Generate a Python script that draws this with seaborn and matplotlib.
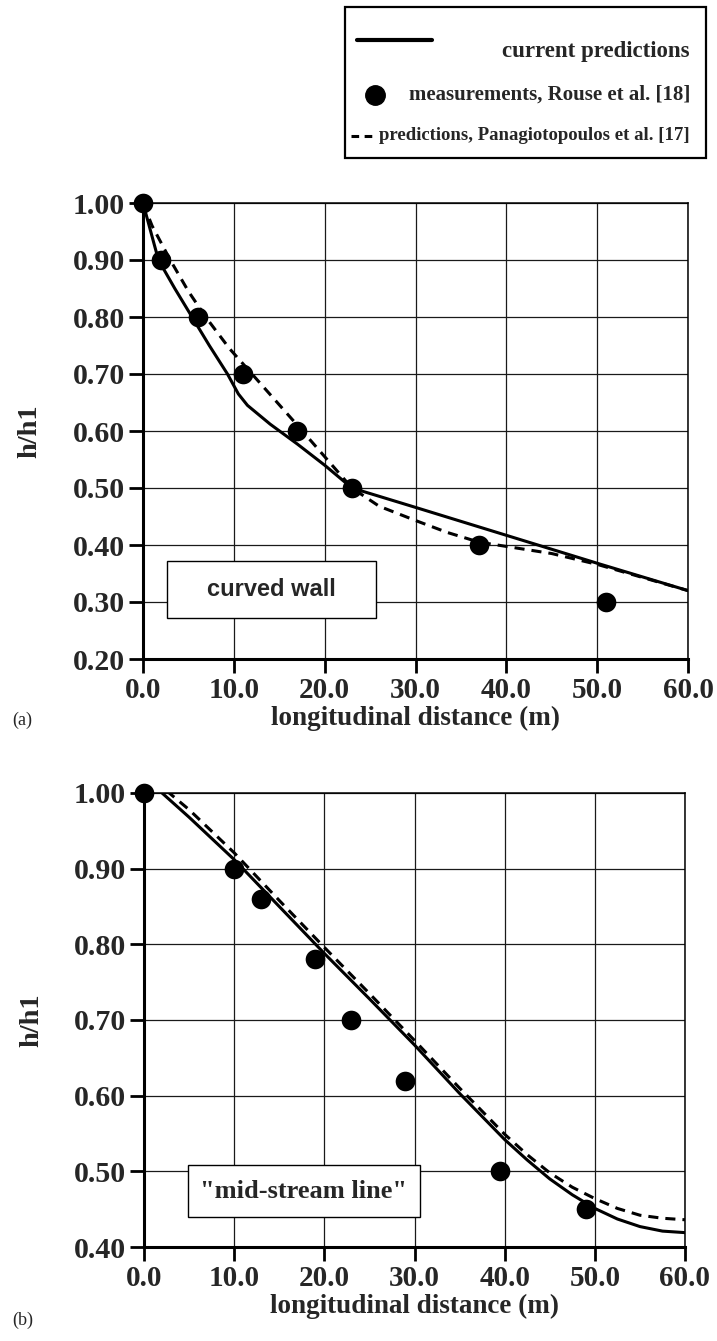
import matplotlib
matplotlib.use("Agg")
import matplotlib.pyplot as plt
from matplotlib.patches import Rectangle
from matplotlib.lines import Line2D
import seaborn as sns

# ---- (a) curved wall ----
wall_meas_x = [0, 2, 6, 11, 17, 23, 37, 51]
wall_meas_y = [1.00, 0.90, 0.80, 0.70, 0.60, 0.50, 0.40, 0.30]
wall_curr_x = [0, 1.7, 3.5, 5.4, 7.3, 9.3, 10.5, 11.5, 14, 17, 20, 23, 30, 40, 50, 60]
wall_curr_y = [1.00, 0.90, 0.85, 0.80, 0.75, 0.70, 0.665, 0.645, 0.612, 0.577, 0.54, 0.50,
               0.466, 0.417, 0.368, 0.320]
wall_prev_x = [0, 1, 3, 5, 6.9, 9.5, 12, 14.5, 17, 20, 23, 26, 30, 33.5, 37, 41, 45, 50, 55, 60]
wall_prev_y = [1.00, 0.96, 0.90, 0.845, 0.80, 0.745, 0.70, 0.655, 0.61, 0.555, 0.50, 0.468,
               0.443, 0.422, 0.405, 0.395, 0.385, 0.366, 0.343, 0.320]

# ---- (b) mid-stream line ----
mid_meas_x = [0, 10, 13, 19, 23, 29, 39.5, 49]
mid_meas_y = [1.00, 0.90, 0.86, 0.78, 0.70, 0.62, 0.50, 0.45]
mid_curr_x = [2, 5, 10, 15, 20, 25, 30, 35, 40, 42.5, 45, 47.5, 50, 52.5, 55, 57.5, 60]
mid_curr_y = [1.00, 0.968, 0.912, 0.85, 0.788, 0.728, 0.667, 0.603, 0.542, 0.515, 0.49,
              0.469, 0.451, 0.437, 0.427, 0.421, 0.419]
mid_prev_x = [2.5, 5, 10, 15, 20, 25, 30, 35, 40, 42.5, 45, 47.5, 50, 52.5, 55, 57.5, 60]
mid_prev_y = [1.003, 0.978, 0.921, 0.858, 0.796, 0.735, 0.673, 0.61, 0.549, 0.522, 0.498,
              0.479, 0.464, 0.451, 0.442, 0.438, 0.436]

x_ticks = [0, 10, 20, 30, 40, 50, 60]
x_ticklabels = ["0.0", "10.0", "20.0", "30.0", "40.0", "50.0", "60.0"]
wall_yticks = [0.20, 0.30, 0.40, 0.50, 0.60, 0.70, 0.80, 0.90, 1.00]
mid_yticks = [0.40, 0.50, 0.60, 0.70, 0.80, 0.90, 1.00]

legend_labels = ["current predictions",
                 "measurements, Rouse et al. [18]",
                 "predictions, Panagiotopoulos et al. [17]"]

sns.set_theme(style="ticks")
plt.rcParams["font.family"] = ["Liberation Serif", "DejaVu Serif"]
plt.rcParams["font.weight"] = "bold"

W, H = 717, 1341
fig = plt.figure(figsize=(W / 100, H / 100), dpi=100)
fig.patch.set_facecolor("white")

DASH = (0, (3.3, 2.3))
LW = 2.2


def px_rect(x0, y0, x1, y1):
    """axes rectangle from pixel edges (origin top-left)"""
    return [x0 / W, 1 - y1 / H, (x1 - x0) / W, (y1 - y0) / H]


def style_axes(ax, yticks, ylo):
    ax.set_xlim(0, 60)
    ax.set_ylim(ylo, 1.0)
    ax.set_xticks(x_ticks)
    ax.set_xticklabels(x_ticklabels)
    ax.set_yticks(yticks)
    ax.set_yticklabels([f"{v:.2f}" for v in yticks])
    ax.grid(True, color="#1a1a1a", linewidth=0.9)
    ax.set_axisbelow(True)
    for side in ("left", "bottom"):
        ax.spines[side].set_linewidth(2.2)
        ax.spines[side].set_color("black")
    for side in ("top", "right"):
        ax.spines[side].set_linewidth(1.1)
        ax.spines[side].set_color("black")
    ax.tick_params(axis="both", direction="out", length=10, width=2.0,
                   color="black", pad=3)
    ax.tick_params(axis="x", labelsize=21)
    ax.tick_params(axis="y", labelsize=21.5)
    for lab in ax.get_xticklabels() + ax.get_yticklabels():
        lab.set_fontweight("bold")
    ax.set_xlabel("longitudinal distance (m)", fontsize=19.5, fontweight="bold", labelpad=1)
    ax.set_ylabel("h/h1", fontsize=20.5, fontweight="bold")
    ax.yaxis.set_label_coords(-0.185, 0.5)
    ax.set_facecolor("white")


def draw_panel(ax, mx, my, cx, cy, px, py):
    sns.lineplot(x=px, y=py, ax=ax, color="black", linewidth=LW, linestyle=DASH,
                 estimator=None, sort=False, zorder=3)
    sns.lineplot(x=cx, y=cy, ax=ax, color="black", linewidth=LW,
                 estimator=None, sort=False, zorder=3)
    sns.scatterplot(x=mx, y=my, ax=ax, color="black", s=200, edgecolor="black",
                    linewidth=0, zorder=5, clip_on=False)


# top panel
ax1 = fig.add_axes(px_rect(143, 203, 688, 659))
draw_panel(ax1, wall_meas_x, wall_meas_y, wall_curr_x, wall_curr_y, wall_prev_x, wall_prev_y)
style_axes(ax1, wall_yticks, 0.20)
ax1.add_patch(Rectangle((2.6, 0.2725), 23.0, 0.0995, facecolor="white",
                        edgecolor="black", linewidth=1.0, zorder=6))
ax1.text(14.1, 0.322, "curved wall", ha="center", va="center", fontsize=17,
         fontweight="bold", family=["Liberation Sans", "DejaVu Sans"], zorder=7)

# bottom panel
ax2 = fig.add_axes(px_rect(144, 793, 685, 1247))
draw_panel(ax2, mid_meas_x, mid_meas_y, mid_curr_x, mid_curr_y, mid_prev_x, mid_prev_y)
style_axes(ax2, mid_yticks, 0.40)
ax2.add_patch(Rectangle((4.9, 0.439), 25.7, 0.069, facecolor="white",
                        edgecolor="black", linewidth=1.0, zorder=6))
ax2.text(17.7, 0.4735, "\"mid-stream line\"", ha="center", va="center", fontsize=19,
         fontweight="bold", zorder=7)

# panel tags
fig.text(12 / W, 1 - 720 / H, "(a)", fontsize=13, fontweight="normal", ha="left", va="center")
fig.text(12 / W, 1 - 1320 / H, "(b)", fontsize=13, fontweight="normal", ha="left", va="center")

# key box
bx0, by0, bx1, by1 = 345, 7, 706, 158
fig.patches.append(Rectangle((bx0 / W, 1 - by1 / H), (bx1 - bx0) / W, (by1 - by0) / H,
                             transform=fig.transFigure, facecolor="white",
                             edgecolor="black", linewidth=1.6, zorder=1))
row_y = [52, 95, 136]
row_size = [16.5, 15.0, 13.5]
fig.lines.append(Line2D([357 / W, 432 / W], [1 - 40 / H] * 2,
                        transform=fig.transFigure, color="black", linewidth=3.0))
fig.lines.append(Line2D([375 / W], [1 - row_y[1] / H], transform=fig.transFigure,
                        marker="o", markersize=14, color="black", linestyle="none"))
fig.lines.append(Line2D([351 / W, 372 / W], [1 - row_y[2] / H] * 2,
                        transform=fig.transFigure, color="black", linewidth=2.2,
                        linestyle=(0, (2.5, 1.8))))
for yy, lab, fs in zip(row_y, legend_labels, row_size):
    fig.text(690 / W, 1 - yy / H, lab, ha="right", va="center", fontsize=fs,
             fontweight="bold")

fig.savefig("out.png", dpi=100, facecolor="white")
